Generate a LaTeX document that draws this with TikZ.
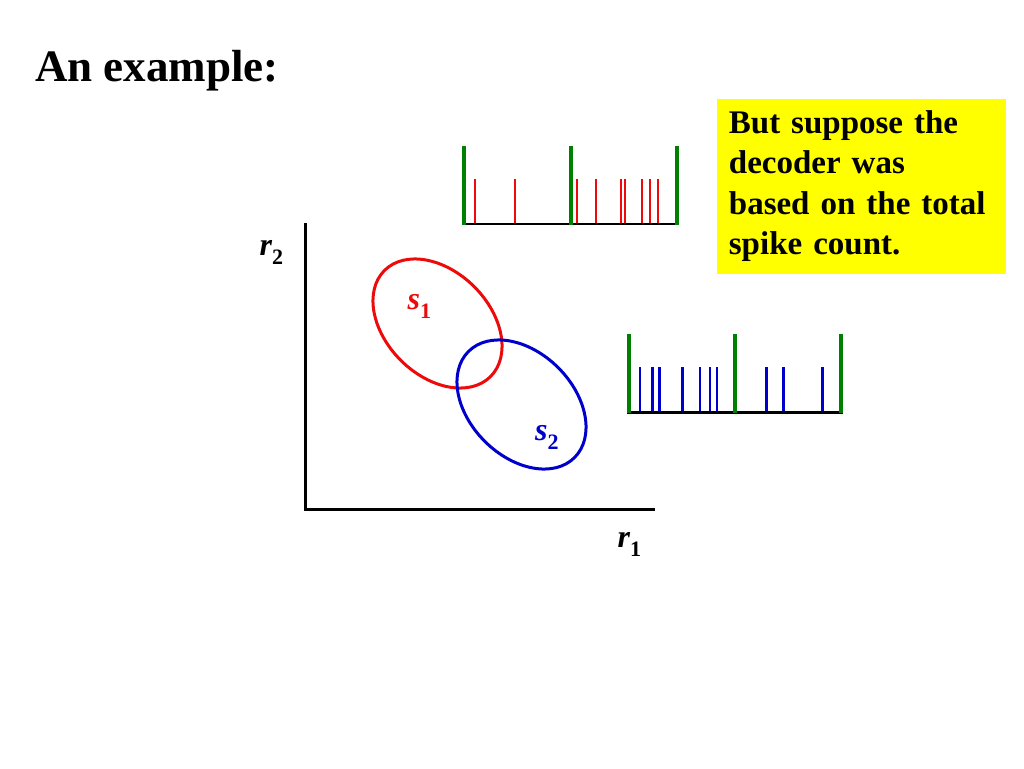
\documentclass[tikz,border=0pt]{standalone}
\usepackage{fontspec}
\setmainfont{Liberation Serif}
\usetikzlibrary{positioning}
\definecolor{spkred}{RGB}{236,10,10}
\definecolor{spkblue}{RGB}{0,0,204}
\definecolor{bargreen}{RGB}{0,128,0}
\definecolor{boxyellow}{RGB}{255,255,0}
\newcommand{\varlbl}[2]{{\itshape #1}\raisebox{-9pt}{\fontsize{22}{22}\selectfont #2}}
\begin{document}
\begin{tikzpicture}[x=1pt,y=-1pt,
    bar/.style={draw=bargreen,line width=4pt},
    ax/.style={draw=black,line width=2.5pt},
    spk/.style={line width=2.2pt},
    lbl/.style={inner sep=0pt,anchor=base west,font=\fontsize{32}{38}\selectfont\bfseries}]
  \useasboundingbox (0,0) rectangle (1024,768);
  \node[inner sep=0pt,anchor=base west,font=\fontsize{45}{54}\selectfont\bfseries] (title) at (35,81.7) {An example:};
  \node[fill=boxyellow,anchor=north west,minimum width=289,minimum height=175,text width=265,
        align=left,inner xsep=12,font=\fontsize{33}{40.5}\selectfont\bfseries] (box) at (716.7,98.3)
        {But suppose the\\decoder was\\based on the total\\spike count.};
  \coordinate (origin) at (305.7,509.3);
  \draw[ax] (305.7,223.3) -- (origin) -- (655,509.3);
  \node[lbl] (r2) at (259.5,255) {\varlbl{r}{2}};
  \node[lbl] (r1) at (617.5,547) {\varlbl{r}{1}};
  \draw[spkred,line width=3pt,rotate around={-45:(437.5,323.5)}] (437.5,323.5) ellipse[x radius=75,y radius=52];
  \draw[spkblue,line width=3pt,rotate around={-45:(521.5,404.5)}] (521.5,404.5) ellipse[x radius=75,y radius=52];
  \node[lbl,spkred] (s1) at (407.5,309) {\varlbl{s}{1}};
  \node[lbl,spkblue] (s2) at (535,440) {\varlbl{s}{2}};
  \begin{scope}[shift={(464,224)}]
    \draw[spk,spkred] foreach \t in {11,50.7,112.7,131.7,156.7,161,178.3,185.7,194} {(\t,0) -- (\t,-45)};
    \draw[ax] (-2,0) -- (215.3,0);
    \draw[bar] foreach \b in {0,106.7,213.3} {(\b,1) -- (\b,-78)};
  \end{scope}
  \begin{scope}[shift={(628.7,412.3)}]
    \draw[spk,spkblue,line width=2.5pt] foreach \t in {11.3,23.6,30.6,53.6,71.3,81.3,88.3,138,155,194} {(\t,0) -- (\t,-45.6)};
    \draw[ax] (-2,0) -- (214.3,0);
    \draw[bar] foreach \b in {0,106.3,212.3} {(\b,1) -- (\b,-78)};
  \end{scope}
\end{tikzpicture}
\end{document}
